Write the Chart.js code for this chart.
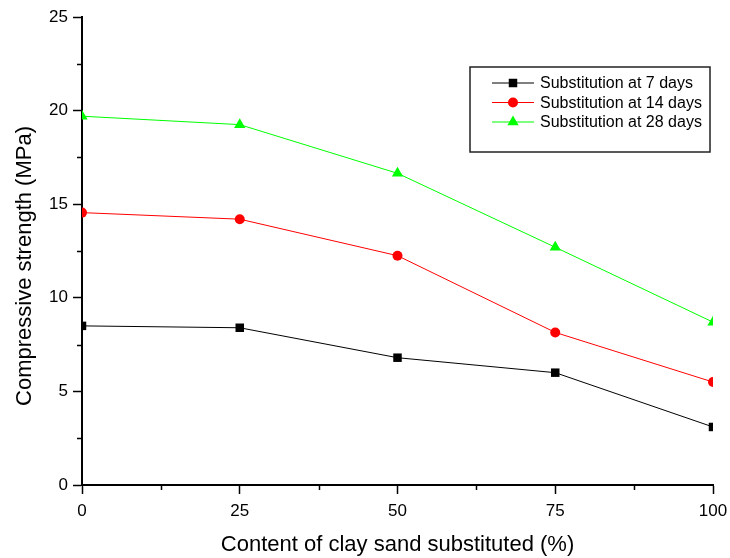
<!DOCTYPE html>
<html>
<head>
<meta charset="utf-8">
<script src="https://cdn.jsdelivr.net/npm/chart.js@4.4.1/dist/chart.umd.min.js"></script>
<style>
  body { margin: 0; background: #fff; }
  #wrap { width: 730px; height: 558px; }
</style>
</head>
<body>
<div id="wrap"><canvas id="myChart" width="730" height="558"></canvas></div>
<script>
const contents = [0, 25, 50, 75, 100];
const days7 = [8.5, 8.4, 6.8, 6.0, 3.1];
const days14 = [14.55, 14.2, 12.25, 8.15, 5.5];
const days28 = [19.7, 19.25, 16.65, 12.7, 8.7];
const seriesNames = ['Substitution at 7 days', 'Substitution at 14 days', 'Substitution at 28 days'];
const xTicks = [0, 25, 50, 75, 100];
const yTicks = [0, 5, 10, 15, 20, 25];
const yTitle = 'Compressive strength (MPa)';

Chart.defaults.font.family = '"Liberation Sans", Arial, sans-serif';
Chart.defaults.color = '#000';

const toPoints = arr => arr.map((v, i) => ({x: contents[i], y: v}));

// minor ticks half way between the labelled ones
const minorTicks = {
    id: 'minorTicks',
    afterDraw(chart) {
        const {ctx, scales: {x, y}, chartArea} = chart;
        ctx.save();
        ctx.strokeStyle = '#000';
        ctx.lineWidth = 1.5;
        ctx.beginPath();
        for (let i = 0; i < yTicks.length - 1; i++) {
            const py = Math.round(y.getPixelForValue((yTicks[i] + yTicks[i + 1]) / 2)) + 0.5;
            ctx.moveTo(chartArea.left - 5, py);
            ctx.lineTo(chartArea.left, py);
        }
        for (let i = 0; i < xTicks.length - 1; i++) {
            const px = Math.round(x.getPixelForValue((xTicks[i] + xTicks[i + 1]) / 2)) + 0.5;
            ctx.moveTo(px, chartArea.bottom);
            ctx.lineTo(px, chartArea.bottom + 5);
        }
        ctx.stroke();
        ctx.restore();
    }
};

// y title sits a bit below the middle of the axis in the original
const yTitlePlugin = {
    id: 'yTitlePlugin',
    afterDraw(chart) {
        const ctx = chart.ctx;
        ctx.save();
        ctx.translate(25, 266);
        ctx.rotate(-Math.PI / 2);
        ctx.font = '22px "Liberation Sans", Arial, sans-serif';
        ctx.fillStyle = '#000';
        ctx.textAlign = 'center';
        ctx.textBaseline = 'middle';
        ctx.fillText(yTitle, 0, 0);
        ctx.restore();
    }
};

// boxed legend inside the plot, like the origin figure
const boxLegend = {
    id: 'boxLegend',
    afterDraw(chart) {
        const ctx = chart.ctx;
        const bx = 470, by = 67, bw = 240, bh = 85;
        ctx.save();
        ctx.strokeStyle = '#222';
        ctx.lineWidth = 1.5;
        ctx.strokeRect(bx, by, bw, bh);
        ctx.font = '16px "Liberation Sans", Arial, sans-serif';
        ctx.textBaseline = 'middle';
        chart.data.datasets.forEach((ds, i) => {
            const ly = 83 + i * 19.5;
            ctx.strokeStyle = ds.borderColor;
            ctx.lineWidth = 1;
            ctx.beginPath();
            ctx.moveTo(492, ly);
            ctx.lineTo(534, ly);
            ctx.stroke();
            ctx.fillStyle = ds.pointBackgroundColor;
            Chart.helpers.drawPoint(ctx, {pointStyle: ds.pointStyle, radius: ds.pointRadius, rotation: 0, borderWidth: 0}, 513, ly);
            ctx.fillStyle = '#000';
            ctx.fillText(ds.label, 540, ly + 1);
        });
        ctx.restore();
    }
};

const ctx = document.getElementById('myChart');
const data = {
    datasets: [
        {label: seriesNames[0], data: toPoints(days7), borderColor: '#000000', pointBackgroundColor: '#000000',
         pointBorderColor: '#000000', pointStyle: 'rect', pointRadius: 6, borderWidth: 1, pointBorderWidth: 0},
        {label: seriesNames[1], data: toPoints(days14), borderColor: '#ff0000', pointBackgroundColor: '#ff0000',
         pointBorderColor: '#ff0000', pointStyle: 'circle', pointRadius: 5, borderWidth: 1, pointBorderWidth: 0},
        {label: seriesNames[2], data: toPoints(days28), borderColor: '#00ff00', pointBackgroundColor: '#00ff00',
         pointBorderColor: '#00ff00', pointStyle: 'triangle', pointRadius: 6.5, borderWidth: 1, pointBorderWidth: 0}
    ]
};

const config = {
    type: 'line',
    data: data,
    options: {
        responsive: false,
        animation: false,
        layout: {padding: {top: 17, right: 17, left: 0, bottom: 0}},
        scales: {
            x: {
                type: 'linear',
                min: 0, max: 100,
                afterFit: s => { s.height = 73; s.paddingLeft = 0; s.paddingRight = 0; },
                afterBuildTicks: s => { s.ticks = xTicks.map(v => ({value: v})); },
                ticks: {font: {size: 17}, padding: 7, maxRotation: 0},
                grid: {drawOnChartArea: false, drawTicks: true, tickLength: 9, tickColor: '#000', tickWidth: 1.5},
                border: {display: true, color: '#000', width: 2},
                title: {display: true, text: 'Content of clay sand substituted (%)', font: {size: 22}, padding: {top: 0, bottom: 0}}
            },
            y: {
                min: 0, max: 25,
                afterFit: s => { s.width = 82; s.paddingTop = 0; s.paddingBottom = 0; },
                afterBuildTicks: s => { s.ticks = yTicks.map(v => ({value: v})); },
                ticks: {font: {size: 17}, padding: 5},
                grid: {drawOnChartArea: false, drawTicks: true, tickLength: 9, tickColor: '#000', tickWidth: 1.5},
                border: {display: true, color: '#000', width: 2},
                title: {display: false}
            }
        },
        plugins: {
            legend: {display: false},
            tooltip: {enabled: false}
        }
    },
    plugins: [minorTicks, yTitlePlugin, boxLegend]
};

new Chart(ctx, config);
</script>
</body>
</html>
